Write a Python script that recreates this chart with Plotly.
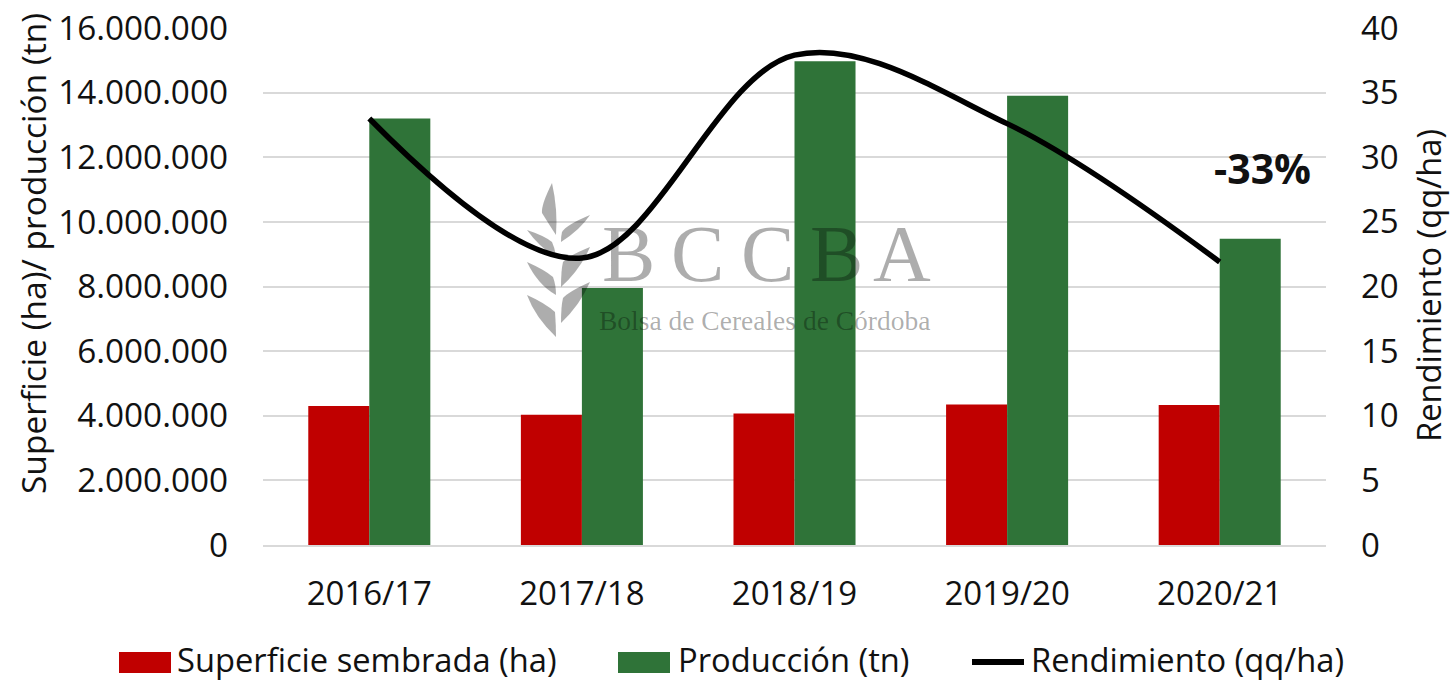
import plotly.graph_objects as go
from plotly.subplots import make_subplots

W, H = 1451, 681
L, R, T, B = 263, 1326, 28, 545

campanas = ["2016/17", "2017/18", "2018/19", "2019/20", "2020/21"]
superficie = [4300000, 4030000, 4070000, 4350000, 4330000]
produccion = [13200000, 7950000, 14970000, 13900000, 9480000]
rendimiento = [33.0, 22.2, 37.9, 32.6, 21.9]
y_ticks = [0, 2000000, 4000000, 6000000, 8000000, 10000000, 12000000, 14000000, 16000000]
y_labels = ["0", "2.000.000", "4.000.000", "6.000.000", "8.000.000", "10.000.000", "12.000.000", "14.000.000", "16.000.000"]
y2_ticks = [0, 5, 10, 15, 20, 25, 30, 35, 40]
nombres = ["Superficie sembrada (ha)", "Producción (tn)", "Rendimiento (qq/ha)"]

FONT = "Open Sans"
TXT = "#111111"
GRID = "#d9d9d9"
WM = "rgba(0,0,0,0.32)"
ROJO = "#c00000"
VERDE = "#2f7338"

def px(x):
    return (x - L) / (R - L)

def py(y):
    return (B - y) / (B - T)

fig = make_subplots(specs=[[{"secondary_y": True}]])
fig.add_trace(go.Bar(name=nombres[0], x=campanas, y=superficie, marker=dict(color=ROJO, line_width=0), showlegend=False), secondary_y=False)
fig.add_trace(go.Bar(name=nombres[1], x=campanas, y=produccion, marker=dict(color=VERDE, line_width=0), showlegend=False), secondary_y=False)
fig.add_trace(go.Scatter(name=nombres[2], x=campanas, y=rendimiento, mode="lines", showlegend=False,
                         line=dict(color="#000000", width=5.5, shape="spline", smoothing=1.0)), secondary_y=True)

# watermark: wheat leaves (tip / control points given in pixels)
leaves = [
    [(552,183),(541,205),(542,213),(550,226),(556,235),(558,210)],
    [(590,215),(566,225),(562,232),(561,236),(561,242),(580,230)],
    [(527,230),(545,236),(552,242),(555,248),(556,257),(540,248)],
    [(590,247),(568,256),(563,262),(561,270),(561,287),(580,270)],
    [(527,262),(545,270),(553,277),(556,285),(556,295),(538,285)],
    [(590,282),(568,292),(563,298),(561,306),(561,323),(580,305)],
    [(527,295),(545,303),(555,312),(556,325),(556,337),(535,317)],
]
shapes = []
for p in leaves:
    c = [(px(a), py(b)) for a, b in p]
    d = f"M{c[0][0]},{c[0][1]} Q{c[1][0]},{c[1][1]} {c[2][0]},{c[2][1]} Q{c[3][0]},{c[3][1]} {c[4][0]},{c[4][1]} Q{c[5][0]},{c[5][1]} {c[0][0]},{c[0][1]} Z"
    shapes.append(dict(type="path", path=d, xref="paper", yref="paper", fillcolor=WM, line_width=0, layer="above"))

def paper_text(text, x, y, size, family=FONT, color=TXT, anchor="center", angle=0):
    return dict(text=text, x=px(x), y=py(y), xref="paper", yref="paper", xanchor=anchor, yanchor="middle",
                showarrow=False, textangle=angle, font=dict(family=family, size=size, color=color))

annots = []
for ch, xc in zip("BCCBA", [628, 697, 767, 836, 902]):
    annots.append(paper_text(ch, xc, 254, 80, "Liberation Serif", WM))
annots.append(paper_text("Bolsa de Cereales de Córdoba", 764, 320, 27.5, "Liberation Serif", WM))
annots.append(paper_text("<b>-33%</b>", 1262, 168, 41))
annots.append(paper_text("Superficie (ha)/ producción (tn)", 33, 254, 33.5, angle=-90))
annots.append(paper_text("Rendimiento (qq/ha)", 1428, 286, 32.7, angle=-90))

# legend drawn to the reference's swatch sizes
for color, x0 in [(ROJO, 119), (VERDE, 618)]:
    shapes.append(dict(type="rect", xref="paper", yref="paper", x0=px(x0), x1=px(x0 + 52), y0=py(673), y1=py(652),
                       fillcolor=color, line_width=0))
shapes.append(dict(type="line", xref="paper", yref="paper", x0=px(972), x1=px(1024), y0=py(662), y1=py(662),
                   line=dict(color="#000000", width=6)))
for nombre, x0 in zip(nombres, [175, 676, 1029]):
    annots.append(paper_text(nombre, x0, 659, 32.7, anchor="left"))

fig.update_layout(
    width=W, height=H, autosize=False,
    margin=dict(l=L, r=W - R, t=T, b=H - B),
    paper_bgcolor="white", plot_bgcolor="white",
    barmode="group", bargap=0.426, bargroupgap=0,
    font=dict(family=FONT, size=30, color=TXT),
    shapes=shapes, annotations=annots, showlegend=False,
)
fig.update_xaxes(domain=[0, 1], automargin=False, showgrid=False, showline=True, linecolor=GRID, linewidth=2, ticks="",
                 tickfont=dict(size=33, color=TXT), ticklabelstandoff=18)
fig.update_yaxes(automargin=False, range=[0, 16000000], tickvals=y_ticks, ticktext=y_labels, showgrid=True, gridcolor=GRID, gridwidth=2,
                 zeroline=False, showline=False, ticks="", tickfont=dict(size=33.3, color=TXT), ticklabelstandoff=34, secondary_y=False)
fig.update_yaxes(automargin=False, range=[0, 40], tickvals=y2_ticks, showgrid=False, zeroline=False, showline=False, ticks="",
                 tickfont=dict(size=33, color=TXT), ticklabelstandoff=34, secondary_y=True)

fig.write_html("out.html", post_script="document.body.style.margin='0';", config=dict(displayModeBar=False))
